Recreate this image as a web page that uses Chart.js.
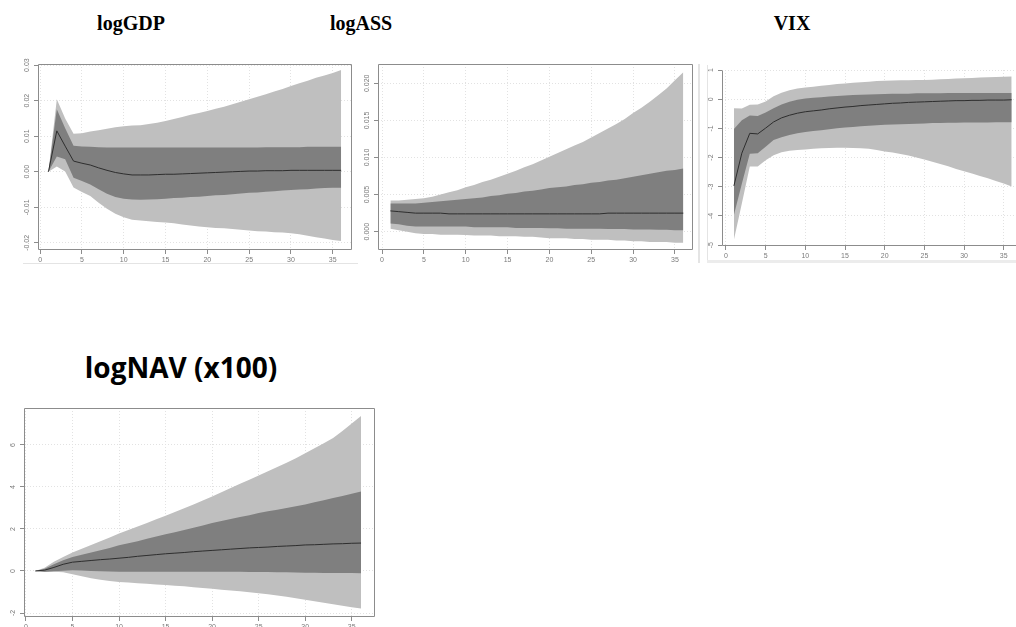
<!DOCTYPE html>
<html>
<head>
<meta charset="utf-8">
<script src="https://cdn.jsdelivr.net/npm/chart.js@4.4.1/dist/chart.umd.min.js"></script>
<style>
  html, body { margin: 0; padding: 0; background: #fff; overflow: hidden; }
  body { width: 1016px; height: 627px; position: relative; }
  .panel { position: absolute; }
  .title { position: absolute; white-space: nowrap; transform: translateX(-50%); color: #000; }
  .serif { font: bold 20px/20px "Liberation Serif", "Times New Roman", serif; }
  .sans { font: bold 28px/28px "Open Sans", sans-serif; }
  .edge { position: absolute; background: #e4e4e4; }
</style>
</head>
<body>

<div class="title serif" style="left:131px; top:13px;">logGDP</div>
<div class="title serif" style="left:361px; top:13px;">logASS</div>
<div class="title serif" style="left:792px; top:13px;">VIX</div>
<div class="title sans" style="left:181px; top:353px;">logNAV (x100)</div>

<!-- thin borders of the individual plot windows -->
<div class="edge" style="left:23px; top:263px; width:335px; height:1px;"></div>
<div class="edge" style="left:698px; top:64px; width:2px; height:199px;"></div>
<div class="edge" style="left:707px; top:65px; width:1px; height:196px;"></div>
<div class="edge" style="left:707px; top:260px; width:309px; height:3px; background:#ececec;"></div>

<div class="panel" style="left:0px; top:56px;"><canvas id="gdp" width="360" height="214"></canvas></div>
<div class="panel" style="left:360px; top:56px;"><canvas id="ass" width="338" height="214"></canvas></div>
<div class="panel" style="left:708px; top:56px;"><canvas id="vix" width="322" height="203"></canvas></div>
<div class="panel" style="left:0px; top:396px;"><canvas id="nav" width="385" height="241"></canvas></div>

<script>
// horizons 1..36
var horizon = [1,2,3,4,5,6,7,8,9,10,11,12,13,14,15,16,17,18,19,20,21,22,23,24,25,26,27,28,29,30,31,32,33,34,35,36];
var xTicks = [0, 5, 10, 15, 20, 25, 30, 35];

// logGDP response
var gdpMed   = [0,0.0115,0.0072,0.0030,0.0024,0.0019,0.0011,0.0004,-0.0002,-0.0006,-0.0009,-0.0009,-0.0009,-0.0008,-0.0007,-0.0007,-0.0006,-0.0005,-0.0004,-0.0003,-0.0002,-0.0001,0,0.0001,0.0002,0.0002,0.0003,0.0003,0.0003,0.0004,0.0004,0.0004,0.0004,0.0004,0.0004,0.0004];
var gdpIn68  = [0,0.0176,0.0122,0.0073,0.0071,0.0070,0.0069,0.0068,0.0068,0.0068,0.0068,0.0068,0.0068,0.0068,0.0068,0.0068,0.0068,0.0068,0.0068,0.0068,0.0068,0.0068,0.0068,0.0068,0.0068,0.0068,0.0069,0.0069,0.0069,0.0069,0.0069,0.0070,0.0070,0.0070,0.0070,0.0070];
var gdpLo68  = [0,0.0043,0.0035,-0.0017,-0.0026,-0.0036,-0.0049,-0.0062,-0.0071,-0.0076,-0.0078,-0.0079,-0.0078,-0.0077,-0.0076,-0.0074,-0.0073,-0.0071,-0.0070,-0.0068,-0.0066,-0.0065,-0.0063,-0.0061,-0.0059,-0.0058,-0.0056,-0.0055,-0.0053,-0.0051,-0.0050,-0.0049,-0.0047,-0.0046,-0.0045,-0.0045];
var gdpHi95  = [0,0.0204,0.0150,0.0107,0.0108,0.0113,0.0117,0.0121,0.0125,0.0128,0.0130,0.0131,0.0134,0.0138,0.0143,0.0148,0.0154,0.0160,0.0165,0.0171,0.0177,0.0183,0.0190,0.0197,0.0204,0.0211,0.0218,0.0226,0.0233,0.0241,0.0249,0.0256,0.0264,0.0271,0.0278,0.0286];
var gdpLo95  = [0,0.0015,0.0001,-0.0044,-0.0057,-0.0068,-0.0087,-0.0104,-0.0118,-0.0128,-0.0135,-0.0137,-0.0139,-0.0141,-0.0143,-0.0145,-0.0148,-0.0151,-0.0154,-0.0156,-0.0158,-0.0159,-0.0161,-0.0163,-0.0165,-0.0167,-0.0168,-0.0170,-0.0171,-0.0173,-0.0176,-0.0180,-0.0184,-0.0188,-0.0192,-0.0195];
var gdpYTicks = [-0.02, -0.01, 0, 0.01, 0.02, 0.03];
var gdpYLabels = ['-0.02', '-0.01', '0.00', '0.01', '0.02', '0.03'];

// logASS response
var assMed   = [0.0028,0.0027,0.0026,0.0025,0.0025,0.0025,0.0025,0.0024,0.0024,0.0024,0.0024,0.0024,0.0024,0.0024,0.0024,0.0024,0.0024,0.0024,0.0024,0.0024,0.0024,0.0024,0.0024,0.0024,0.0024,0.0024,0.0025,0.0025,0.0025,0.0025,0.0025,0.0025,0.0025,0.0025,0.0025,0.0025];
var assHi68  = [0.0038,0.0038,0.0038,0.0038,0.0039,0.0040,0.0041,0.0042,0.0043,0.0044,0.0045,0.0046,0.0048,0.0049,0.0051,0.0052,0.0054,0.0055,0.0057,0.0059,0.0060,0.0061,0.0063,0.0064,0.0066,0.0067,0.0069,0.0070,0.0072,0.0074,0.0076,0.0078,0.0080,0.0082,0.0083,0.0085];
var assLo68  = [0.0011,0.0010,0.0008,0.0007,0.0007,0.0007,0.0007,0.0007,0.0007,0.0007,0.0006,0.0006,0.0006,0.0006,0.0006,0.0005,0.0005,0.0005,0.0005,0.00045,0.00045,0.0004,0.0004,0.0004,0.0004,0.0004,0.00035,0.00035,0.00035,0.0003,0.0003,0.0003,0.00025,0.00025,0.0002,0.0002];
var assHi95  = [0.0042,0.0042,0.0043,0.0044,0.0045,0.0047,0.0050,0.0053,0.0056,0.0060,0.0063,0.0067,0.0070,0.0074,0.0078,0.0082,0.0087,0.0091,0.0096,0.0101,0.0106,0.0111,0.0116,0.0121,0.0127,0.0133,0.0139,0.0145,0.0152,0.0160,0.0167,0.0175,0.0184,0.0193,0.0204,0.0215];
var assLo95  = [0.0004,0.0002,0,-0.0002,-0.0003,-0.0003,-0.0004,-0.0004,-0.0004,-0.00045,-0.0005,-0.0005,-0.0005,-0.0006,-0.0006,-0.0006,-0.0007,-0.0007,-0.0008,-0.0009,-0.0009,-0.0009,-0.0010,-0.0010,-0.0011,-0.0011,-0.0011,-0.0012,-0.0012,-0.0013,-0.0013,-0.0014,-0.0014,-0.0014,-0.0015,-0.0015];
var assYTicks = [0, 0.005, 0.010, 0.015, 0.020];
var assYLabels = ['0.000', '0.005', '0.010', '0.015', '0.020'];

// VIX response
var vixMed   = [-2.97,-1.85,-1.17,-1.19,-0.99,-0.78,-0.64,-0.55,-0.48,-0.43,-0.40,-0.37,-0.33,-0.30,-0.27,-0.25,-0.22,-0.20,-0.18,-0.16,-0.14,-0.13,-0.11,-0.10,-0.09,-0.08,-0.07,-0.06,-0.05,-0.05,-0.04,-0.04,-0.03,-0.03,-0.03,-0.02];
var vixHi68  = [-1.02,-0.72,-0.56,-0.58,-0.46,-0.31,-0.18,-0.09,-0.02,0.02,0.05,0.07,0.09,0.11,0.13,0.14,0.15,0.16,0.17,0.18,0.19,0.19,0.19,0.20,0.20,0.20,0.20,0.21,0.21,0.21,0.21,0.21,0.21,0.21,0.21,0.21];
var vixLo68  = [-3.97,-2.90,-1.87,-1.85,-1.63,-1.40,-1.30,-1.23,-1.17,-1.12,-1.09,-1.06,-1.03,-1.00,-0.97,-0.95,-0.93,-0.91,-0.89,-0.88,-0.87,-0.86,-0.85,-0.84,-0.83,-0.82,-0.82,-0.81,-0.81,-0.80,-0.80,-0.80,-0.80,-0.79,-0.79,-0.79];
var vixHi95  = [-0.31,-0.32,-0.19,-0.18,-0.08,0.10,0.22,0.31,0.37,0.40,0.43,0.46,0.49,0.52,0.54,0.56,0.58,0.60,0.62,0.63,0.64,0.65,0.65,0.66,0.66,0.67,0.68,0.69,0.71,0.72,0.73,0.74,0.75,0.76,0.77,0.78];
var vixLo95  = [-4.82,-3.57,-2.31,-2.31,-2.09,-1.92,-1.82,-1.77,-1.74,-1.72,-1.70,-1.68,-1.67,-1.66,-1.66,-1.67,-1.68,-1.70,-1.74,-1.79,-1.83,-1.88,-1.93,-2.00,-2.07,-2.14,-2.22,-2.30,-2.39,-2.47,-2.55,-2.63,-2.71,-2.80,-2.89,-2.99];
var vixYTicks = [-5, -4, -3, -2, -1, 0, 1];
var vixYLabels = ['-5', '-4', '-3', '-2', '-1', '0', '1'];

// logNAV response, scaled by 100
var navMed   = [0,0.04,0.17,0.32,0.42,0.46,0.50,0.54,0.57,0.61,0.65,0.70,0.74,0.78,0.82,0.85,0.88,0.92,0.95,0.98,1.01,1.04,1.07,1.10,1.12,1.14,1.17,1.19,1.21,1.24,1.25,1.27,1.29,1.30,1.32,1.33];
var navHi68  = [0,0.11,0.32,0.51,0.67,0.77,0.88,0.99,1.10,1.22,1.32,1.42,1.53,1.64,1.75,1.85,1.95,2.06,2.17,2.28,2.38,2.48,2.57,2.66,2.76,2.84,2.92,3.00,3.08,3.17,3.27,3.37,3.47,3.57,3.68,3.79];
var navLo68  = [0,-0.03,-0.01,0.01,0.03,0.02,0,-0.01,-0.02,-0.03,-0.03,-0.03,-0.03,-0.03,-0.03,-0.03,-0.03,-0.03,-0.03,-0.03,-0.04,-0.04,-0.04,-0.05,-0.05,-0.05,-0.06,-0.06,-0.07,-0.08,-0.08,-0.09,-0.09,-0.10,-0.10,-0.11];
var navHi95  = [0,0.16,0.44,0.67,0.88,1.06,1.24,1.42,1.60,1.78,1.95,2.12,2.29,2.46,2.63,2.81,2.99,3.17,3.36,3.55,3.75,3.95,4.15,4.35,4.55,4.75,4.95,5.15,5.37,5.60,5.84,6.08,6.33,6.66,7.02,7.38];
var navLo95  = [0,-0.05,-0.04,-0.06,-0.15,-0.25,-0.35,-0.42,-0.48,-0.52,-0.55,-0.58,-0.61,-0.64,-0.67,-0.70,-0.73,-0.77,-0.81,-0.85,-0.89,-0.93,-0.97,-1.01,-1.06,-1.11,-1.17,-1.23,-1.30,-1.37,-1.44,-1.51,-1.58,-1.65,-1.72,-1.78];
var navYTicks = [-2, 0, 2, 4, 6];
var navYLabels = ['-2', '0', '2', '4', '6'];

var LIGHT = '#bfbfbf', DARK = '#7f7f7f', LINE = '#2e2e2e';
var TICK_FONT = { family: 'Liberation Sans, Arial, sans-serif', size: 7 };
var TICK_COLOR = '#7a7a7a';
var GRID = '#e2e2e2';

function pts(ys) {
  return ys.map(function (y, i) { return { x: horizon[i], y: y }; });
}

// frame around the plot area plus vertical y tick labels, R style
var framePlugin = {
  id: 'frame',
  afterDraw: function (chart) {
    var a = chart.chartArea, ctx = chart.ctx;
    var sides = chart.options.plugins.frame.sides;
    var l = Math.round(a.left) + 0.5, r = Math.round(a.right) - 0.5;
    var t = Math.round(a.top) + 0.5, b = Math.round(a.bottom) - 0.5;
    ctx.save();
    ctx.strokeStyle = '#8c8c8c';
    ctx.lineWidth = 1;
    ctx.beginPath();
    if (sides.indexOf('l') >= 0) { ctx.moveTo(l, t); ctx.lineTo(l, b); }
    if (sides.indexOf('b') >= 0) { ctx.moveTo(l, b); ctx.lineTo(r, b); }
    if (sides.indexOf('t') >= 0) { ctx.moveTo(l, t); ctx.lineTo(r, t); }
    if (sides.indexOf('r') >= 0) { ctx.moveTo(r, t); ctx.lineTo(r, b); }
    ctx.stroke();

    var ys = chart.scales.y;
    ctx.fillStyle = TICK_COLOR;
    ctx.font = '7px ' + TICK_FONT.family;
    ctx.textAlign = 'center';
    ctx.textBaseline = 'middle';
    ys.ticks.forEach(function (tk) {
      var py = ys.getPixelForValue(tk.value);
      ctx.save();
      ctx.translate(a.left - 11, py);
      ctx.rotate(-Math.PI / 2);
      ctx.fillText(tk.label, 0, 0);
      ctx.restore();
    });
    ctx.restore();
  }
};

function drawPanel(id, s, box) {
  new Chart(document.getElementById(id), {
    type: 'line',
    data: {
      datasets: [
        { data: pts(s.med), borderColor: LINE, borderWidth: 1, pointRadius: 0, fill: false },
        { data: pts(s.hi68), borderWidth: 0, pointRadius: 0, fill: '+1', backgroundColor: DARK },
        { data: pts(s.lo68), borderWidth: 0, pointRadius: 0, fill: false },
        { data: pts(s.hi95), borderWidth: 0, pointRadius: 0, fill: '+1', backgroundColor: LIGHT },
        { data: pts(s.lo95), borderWidth: 0, pointRadius: 0, fill: false }
      ]
    },
    options: {
      responsive: false,
      animation: false,
      devicePixelRatio: 1,
      elements: { line: { tension: 0 } },
      layout: { padding: { top: box.top, right: box.right, left: 0, bottom: 0 } },
      plugins: { legend: { display: false }, tooltip: { enabled: false }, frame: { sides: box.sides } },
      scales: {
        x: {
          type: 'linear',
          min: box.xmin, max: box.xmax,
          afterBuildTicks: function (sc) { sc.ticks = xTicks.map(function (v) { return { value: v }; }); },
          afterFit: function (sc) { sc.height = box.xh; },
          grid: { color: GRID, tickColor: '#8c8c8c', tickLength: 4, tickBorderDash: [] },
          border: { display: false, dash: [1, 2] },
          ticks: { font: TICK_FONT, color: TICK_COLOR, padding: 2, maxRotation: 0, autoSkip: false,
                   callback: function (v) { return String(v); } }
        },
        y: {
          min: s.ymin, max: s.ymax,
          afterBuildTicks: function (sc) { sc.ticks = s.yTicks.map(function (v) { return { value: v }; }); },
          afterFit: function (sc) { sc.width = box.yw; },
          grid: { color: GRID, tickColor: '#8c8c8c', tickLength: 4, tickBorderDash: [] },
          border: { display: false, dash: [1, 2] },
          ticks: { display: false,
                   callback: function (v) { var i = s.yTicks.indexOf(v); return i >= 0 ? s.yLabels[i] : ''; } }
        }
      }
    },
    plugins: [framePlugin]
  });
}

drawPanel('gdp', { med: gdpMed, hi68: gdpIn68, lo68: gdpLo68, hi95: gdpHi95, lo95: gdpLo95,
                   ymin: -0.022, ymax: 0.0303, yTicks: gdpYTicks, yLabels: gdpYLabels },
          { top: 8, right: 8, yw: 38, xh: 20, xmin: -0.25, xmax: 37.3, sides: 'lbtr' });

drawPanel('ass', { med: assMed, hi68: assHi68, lo68: assLo68, hi95: assHi95, lo95: assLo95,
                   ymin: -0.00247, ymax: 0.0226, yTicks: assYTicks, yLabels: assYLabels },
          { top: 8, right: 5, yw: 18, xh: 20, xmin: -0.48, xmax: 37.16, sides: 'lbtr' });

drawPanel('vix', { med: vixMed, hi68: vixHi68, lo68: vixLo68, hi95: vixHi95, lo95: vixLo95,
                   ymin: -5.03, ymax: 1, yTicks: vixYTicks, yLabels: vixYLabels },
          { top: 14, right: 8, yw: 14, xh: 13, xmin: -0.5, xmax: 37.3, sides: 'lb' });

drawPanel('nav', { med: navMed, hi68: navHi68, lo68: navLo68, hi95: navHi95, lo95: navLo95,
                   ymin: -2.19, ymax: 7.76, yTicks: navYTicks, yLabels: navYLabels },
          { top: 12, right: 10, yw: 24, xh: 20, xmin: -0.21, xmax: 37.5, sides: 'lbtr' });
</script>
</body>
</html>
